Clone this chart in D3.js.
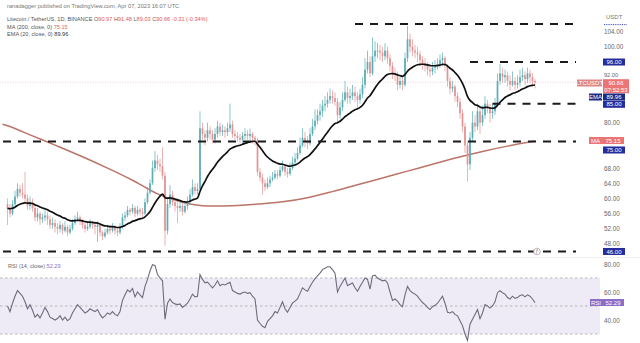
<!DOCTYPE html>
<html><head><meta charset="utf-8">
<script src="https://cdn.jsdelivr.net/npm/d3@7"></script>
<style>body{margin:0;background:#fff}svg{display:block}text{font-family:"Liberation Sans",Arial,sans-serif}</style>
</head><body><svg id="c" width="640" height="343"></svg>
<script>
// ---- data (LTC/USDT daily) ----
const firstOpen = 58.5;
const closes = [
57.5,56,58.5,60.5,62.5,61.5,61,60,58,59,
57.5,55,56,54.5,55,55.5,54.5,53,53.5,52.5,
52,53,51.5,52.5,51,52,53.5,54.5,55,54,
53,52,52.5,53.5,53,52.5,53,51,50,51,
52,51.5,52.5,51.5,51,52.5,55,55.5,57,56.5,
57.5,56,57,56.5,56,59,61.5,64,68,70,
69,68.5,66,51.5,58.5,61,59,58,57.5,58,
56.5,58,59,61,63,62,62.5,78.5,77,76,
78,77,75.5,77,79,77.5,78,77.5,78.5,79.5,
77,76.5,76,75.5,76.5,77,76.5,77,76,75.5,
67,65.5,64,63,64,65,65.5,66.5,66,67.5,
68.5,67,66.5,68,69.5,70.5,72,74,76,75,
74.5,77,79,80.5,82,83,84.5,85,86,87,
86.5,85.5,82,84,86,88,86.5,87,88,87,
86,87.5,90,94,96,93,97.5,99,99,98.5,
97.5,99,97,95,93,92.5,90,91,90,97,
102,100,99,98.5,98,96.5,95.5,95,94,93.5,
94.5,95,95.5,96.5,97,95,91,89,89.5,87,
85.5,82.5,79,74,69,76,80,79,83,80,
82,85,84,82.5,83,85,91,93,92,92.5,
91,90,91,90,90.5,92,92.5,91.5,93,92,
90.97,90.66];
const highs = [
60,58.5,59.5,62,64,63.5,64,67,61,60.5,
60,58,57.5,56.5,56,57,56.5,55.5,55,54.5,
53.5,54,53.5,54,53,53,54.5,55.5,56.5,55.5,
54.5,53.5,54,54.5,54,54,54,53.5,51.5,52,
53,53,53.5,53,52.5,53.5,56,56.5,58,57.5,
58.5,58,58,57.5,57.5,60,63,65,70,72.5,
71.5,70.5,73.5,67,60,63.5,62,60,59,59.5,
59,59,60.5,62.5,65,64,64,83,80,78,
80,79,78,78.5,80.5,80,79.5,79,80,85,
80.5,78,77.5,77,77.5,78.5,78,78.5,77.5,76.5,
76,68,66.5,65,65.5,66,67,67.5,67.5,68.5,
70,69,68,69.5,71,72,73.5,76,78.5,77.5,
76.5,78.5,81,83.5,83.5,85,86,87,88,89,
88.5,88,86.5,85.5,88,91,89.5,89,90,89.5,
88,89,92,97,99,97.5,102.5,101.5,101,100.5,
100,101,100,98,96,94.5,93.5,92.5,92,98.5,
105.5,103.5,102,100.5,100,99,97.5,97,96,95.5,
96,96.5,97,98,98.5,97.5,95.5,92,91,90,
88,86.5,83.5,80,75,77.5,83,82,85,84,
84.5,87,86,85,85,86.5,93,95.5,94.5,94,
93.5,92.5,93.5,92,92.5,94,94.5,93.5,94.5,94,
93,91.48];
const lows = [
53,55,55.5,58,60,60.5,60,59,57,57,
56.5,54,54,53,53.5,54,53,52,52,51,
50.5,51,50.5,51,50,50.5,51.5,53,54,53,
52,51,51.5,52,52,50.5,48.5,50,49,49.5,
50.5,50.5,51,50.5,50,50.5,52,54,55,55.5,
56,55,55.5,55.5,55,55.5,58.5,61,63.5,67,
67.5,67,65,47.5,50.5,57.5,58,56.5,53.5,56.5,
55.5,56,57,58.5,60.5,61,61,62,75.5,74,
75,75.5,74.5,74.5,76,76.5,76.5,76,76.5,77.5,
76,75.5,75,74.5,74.5,75.5,75.5,75.5,74.5,74,
66,64.5,61,62,62.5,63,64.5,65,65,65.5,
67,66,65.5,66,67.5,68.5,70,71.5,73.5,73.5,
73,74,76.5,78,79.5,80.5,81.5,83,84,85,
85,84.5,80,81,83,85.5,85,85,86,85.5,
84,85,86.5,89,93,92,92.5,96,97,96.5,
96,96.5,95.5,93.5,91.5,91,88.5,89,88.5,89.5,
96,98.5,97.5,97,96,95,94,93.5,92.5,92,
92.5,93,94,94.5,95,93.5,89.5,87.5,88,85.5,
84,81,77.5,72,64.5,67.5,75,77.5,78,77,
79,81,82.5,80,81,82,84.5,90,90.5,90.5,
89.5,88.5,89.5,88.5,89,89.5,91,90,90.5,90.5,
89.5,89.03];
const rsiValues = [
50,46,52,57,61,59,57,53,48,51,
47,42,44,41.5,45,49,46,42,41,40,
41,43,40,42,39.5,41,45,48,51,49,
47,45,46,48,47,46,47.5,44,41.5,43,
45,44,46,44,43,46,54,58,61.5,60,
62.5,56.5,60,58,56,64,69,75,79.5,79,
72.5,70,68,40.5,52,55,52.5,51.5,51,51.5,
49,50.5,52,55,58.5,56.5,57,72.5,69,66.5,
67,65,63,65,68,64.5,65.5,65,66,67,
61,60,59,58.5,59.5,60,59,59.5,57,55,
40,37.5,35.5,34.5,39,41,43,46,45,49,
53,48,45.5,49,52,53.5,55,59,63,61.5,
60.5,64,67,69.5,71.5,73.5,76,77,78,78,
76,73.5,60,64,67,70,64.5,65.5,66.5,63,
60.5,64,67,70,69,62,71.5,72,70,69,
68,68.5,66.5,60,54,55,53.5,51,49.5,58,
64,61,59.5,58.5,57,54.5,52.5,51,49,47.5,
49.5,50.5,52,54.5,57,52,45.5,45,46,44,
43,39.5,36,30,25.5,37,40.5,44,47.5,41,
45,51,50,48.5,50,53,59.5,61,59.5,58.5,
56,55,57,55.5,56,57.5,58,56.5,58,57,
55,52.29];
const ma200Index = [-2,0,10,20,30,40,50,60,70,80,90,100,110,120,130,140,150,160,170,180,190,200,211];
const ma200Values = [79.6,79.2,76.5,73.8,71.0,68.0,64.8,61.2,59.0,58.0,58.1,58.5,59.1,60.2,61.8,63.6,65.4,67.2,69.0,70.8,72.4,73.8,75.15];
const emaSeed = 57.4;
const emaPeriod = 20;
const priceTicks = [104,100,92,80,68,64,60,56,52,48];
const rsiTicks = [80,60,40];
const rsiBands = [70,50,30];
const levelPrices = [106,96,85,75,46];
const levelStartIndex = [139,185,194,-2,-2];
const lastPrice = 90.66;

// ---- scales ----
const svg = d3.select('#c');
const x = d3.scaleLinear().domain([-3,231]).range([0,585]);
const y = d3.scaleLinear().domain([104,48]).range([31.7,243.9]);
const yr = d3.scaleLinear().domain([80,40]).range([264,320]);
const idx = d3.range(closes.length);
const opens = idx.map(i => i ? closes[i-1] : firstOpen);
const alpha = 2/(emaPeriod+1);
const ema = [];
idx.forEach(i => { ema[i] = i ? ema[i-1] + alpha*(closes[i]-ema[i-1]) : emaSeed + alpha*(closes[0]-emaSeed); });

svg.append('rect').attr('width',640).attr('height',343).attr('fill','#fff');

// RSI panel
svg.append('line').attr('x1',0).attr('x2',640).attr('y1',257.5).attr('y2',257.5).attr('stroke','#eee');
svg.append('rect').attr('x',0).attr('width',600).attr('y',yr(70)).attr('height',yr(30)-yr(70)).attr('fill','#efebf6');
svg.selectAll('.band').data(rsiBands).join('line')
  .attr('x1',0).attr('x2',600).attr('y1',d=>yr(d)).attr('y2',d=>yr(d))
  .attr('stroke','#a8a8a8').attr('stroke-width',0.8).attr('stroke-dasharray','2.5,2.5');

// last price line
svg.append('line').attr('x1',0).attr('x2',600).attr('y1',y(lastPrice)).attr('y2',y(lastPrice))
  .attr('stroke','#f2c4c4').attr('stroke-width',0.8).attr('stroke-dasharray','1,1.5');

// MA200
svg.append('path').datum(ma200Index.map((d,k)=>[d,ma200Values[k]]))
  .attr('d', d3.line().x(d=>x(d[0])).y(d=>y(d[1])).curve(d3.curveMonotoneX))
  .attr('fill','none').attr('stroke','#bb7468').attr('stroke-width',1.5);

// candles
const up = '#5aaeb5', dn = '#e39393';
const cg = svg.append('g');
cg.selectAll('line').data(idx).join('line')
  .attr('x1',i=>x(i)).attr('x2',i=>x(i)).attr('y1',i=>y(highs[i])).attr('y2',i=>y(lows[i]))
  .attr('stroke',i=>closes[i]>=opens[i]?up:dn).attr('stroke-width',0.7);
cg.selectAll('rect').data(idx).join('rect')
  .attr('x',i=>x(i)-0.85).attr('width',1.7)
  .attr('y',i=>y(Math.max(opens[i],closes[i])))
  .attr('height',i=>Math.max(0.8,Math.abs(y(opens[i])-y(closes[i]))))
  .attr('fill',i=>closes[i]>=opens[i]?up:dn);

// EMA20
svg.append('path').datum(idx)
  .attr('d', d3.line().x(i=>x(i)).y(i=>y(ema[i])).curve(d3.curveMonotoneX))
  .attr('fill','none').attr('stroke','#111').attr('stroke-width',1.7);

// horizontal levels
svg.selectAll('.lvl').data(levelPrices).join('line')
  .attr('x1',(d,k)=>Math.max(3,x(levelStartIndex[k]))).attr('x2',576)
  .attr('y1',d=>y(d)).attr('y2',d=>y(d))
  .attr('stroke','#1a1a1a').attr('stroke-width',2).attr('stroke-dasharray','8,7');

// RSI line
svg.append('path').datum(idx)
  .attr('d', d3.line().x(i=>x(i)).y(i=>yr(rsiValues[i])))
  .attr('fill','none').attr('stroke','#6f6a7c').attr('stroke-width',1.1);

// small icon
svg.append('circle').attr('cx',537).attr('cy',y(46)).attr('r',3.3).attr('fill','#fff').attr('stroke','#999').attr('stroke-width',0.7);
svg.append('text').attr('x',537).attr('y',y(46)+2).attr('text-anchor','middle').attr('font-size',5).attr('fill','#777').text('ƒ');

// axes
const ax = svg.append('g').attr('transform','translate(600,0)')
  .call(d3.axisRight(y).tickValues(priceTicks).tickFormat(d3.format('.2f')).tickSize(0).tickPadding(4));
const axr = svg.append('g').attr('transform','translate(600,0)')
  .call(d3.axisRight(yr).tickValues(rsiTicks).tickFormat(d3.format('.2f')).tickSize(0).tickPadding(4));
[ax,axr].forEach(g=>{g.select('.domain').remove(); g.selectAll('text').attr('font-size',6.3).attr('fill','#666').attr('font-family','"Liberation Sans",Arial,sans-serif');});
ax.selectAll('.tick').filter(d=>d===92).select('text').attr('dy','-0.15em').attr('font-size',5.6);

svg.append('text').attr('x',606).attr('y',19).attr('font-size',6).attr('fill','#777').text('USDT');
svg.append('line').attr('x1',604).attr('x2',627).attr('y1',y(106)+0.5).attr('y2',y(106)+0.5).attr('stroke','#3a4bb0').attr('stroke-width',1).attr('stroke-dasharray','1,0.8');

function box(x0,y0,w,h,fill,lines){
  svg.append('rect').attr('x',x0).attr('y',y0).attr('width',w).attr('height',h).attr('fill',fill);
  lines.forEach((t,k)=>svg.append('text').attr('x',x0+w/2).attr('y',y0+5.6+k*6.8).attr('text-anchor','middle')
    .attr('font-size',6).attr('fill','#fff').text(t));
}
const blue='#262c9c', navy='#1f2a82', red='#ec7474', red2='#df8686', purple='#8b6ec6';
box(603,y(96)-3.5,22,7,blue,['96.00']);
box(577,79.5,25,7,red2,['LTCUSDT']);
box(603,79.2,26,14,red,['90.66','07:52:53']);
box(589,93.5,13,7,navy,['EMA']);
box(603,93.5,22,7,navy,['89.96']);
box(603,100.8,22,7,blue,['85.00']);
box(589,137,13,7,red,['MA']);
box(602,137,22,7,red,['75.15']);
box(603,146.5,22,7,blue,['75.00']);
box(603,y(46)-3.5,22,7,blue,['46.00']);
box(590,299,12,7,purple,['RSI']);
box(602,299,22,7,purple,['52.29']);

// legend
svg.append('text').attr('x',7).attr('y',7.5).attr('font-size',5.7).attr('fill','#777')
  .text('ranadagger published on TradingView.com, Apr 07, 2023 16:07 UTC');
const l1 = svg.append('text').attr('x',7).attr('y',21).attr('font-size',5.6).attr('fill','#555');
l1.append('tspan').text('Litecoin / TetherUS, 1D, BINANCE  ');
[['O','90.97'],['H','91.48'],['L','89.03'],['C','90.66']].forEach(([k,v])=>{
  l1.append('tspan').attr('fill','#666').text(k);
  l1.append('tspan').attr('fill','#e05a5a').text(v+'  ');
});
l1.append('tspan').attr('fill','#e05a5a').text('-0.31 (-0.34%)');
const l2 = svg.append('text').attr('x',7).attr('y',28.5).attr('font-size',5.6).attr('fill','#555');
l2.append('tspan').text('MA (200, close, 0)  ');
l2.append('tspan').attr('fill','#d06a6a').text('75.15');
const l3 = svg.append('text').attr('x',7).attr('y',36).attr('font-size',5.6).attr('fill','#555');
l3.append('tspan').text('EMA (20, close, 0)  ');
l3.append('tspan').attr('fill','#333').text('89.96');
const l4 = svg.append('text').attr('x',8).attr('y',267.5).attr('font-size',5.6).attr('fill','#666');
l4.append('tspan').text('RSI (14, close)  ');
l4.append('tspan').attr('fill','#8b6ec6').text('52.29');
</script></body></html>
